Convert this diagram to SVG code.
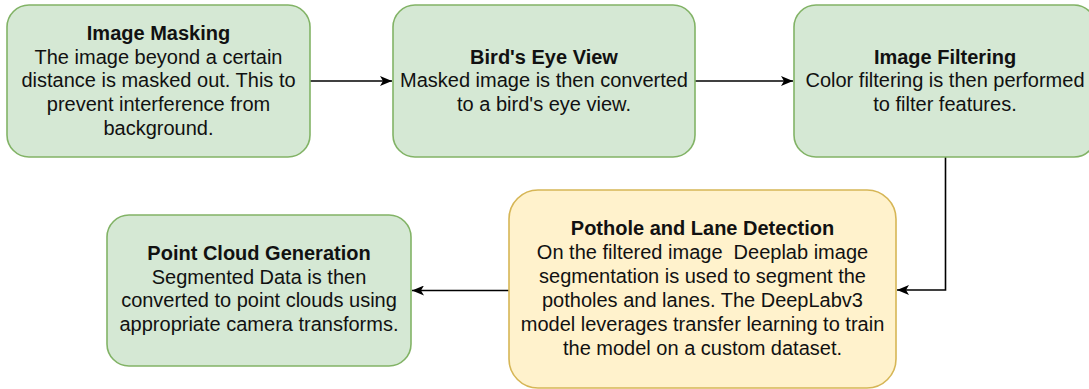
<svg xmlns="http://www.w3.org/2000/svg" width="1089" height="389" viewBox="0 0 1089 389">
  <style>
    .green { fill: #d5e8d4; stroke: #82b366; stroke-width: 1.6; }
    .yellow { fill: #fff2cc; stroke: #d6b656; stroke-width: 1.6; }
    text { font-family: "Liberation Sans", Arial, Helvetica, sans-serif; font-size: 20px; fill: #111; text-anchor: middle; }
    .title { font-weight: bold; }
    .conn { fill: none; stroke: #000; stroke-width: 1.6; }
  </style>
  <defs>
    <marker id="arrow" viewBox="0 0 12 10" refX="12" refY="5" markerWidth="12" markerHeight="10" markerUnits="userSpaceOnUse" orient="auto">
      <path d="M0,0 L12,5 L0,10 L3,5 z" fill="#000"/>
    </marker>
  </defs>
  <rect width="1089" height="389" fill="#ffffff"/>

  <g id="connectors">
    <path class="conn" d="M310,81 L392,81" marker-end="url(#arrow)"/>
    <path class="conn" d="M695,81 L793,81" marker-end="url(#arrow)"/>
    <path class="conn" d="M945.5,157 L945.5,290 L897,290" marker-end="url(#arrow)"/>
    <path class="conn" d="M509,290.5 L412,290.5" marker-end="url(#arrow)"/>
  </g>

  <g id="node-image-masking">
    <rect class="green" x="7" y="5" width="303" height="152" rx="22" ry="22"/>
    <text x="158.5" y="40" class="title">Image Masking</text>
    <text x="158.5" y="63.7">The image beyond a certain</text>
    <text x="158.5" y="87.4">distance is masked out. This to</text>
    <text x="158.5" y="111.1">prevent interference from</text>
    <text x="158.5" y="134.8">background.</text>
  </g>

  <g id="node-birds-eye-view">
    <rect class="green" x="393" y="5" width="302" height="152" rx="22" ry="22"/>
    <text x="544" y="63.5" class="title">Bird's Eye View</text>
    <text x="544" y="87.2">Masked image is then converted</text>
    <text x="544" y="110.9">to a bird's eye view.</text>
  </g>

  <g id="node-image-filtering">
    <rect class="green" x="794" y="5" width="302" height="152" rx="22" ry="22"/>
    <text x="945" y="63.5" class="title">Image Filtering</text>
    <text x="945" y="87.2">Color filtering is then performed</text>
    <text x="945" y="110.9">to filter features.</text>
  </g>

  <g id="node-pothole-lane-detection">
    <rect class="yellow" x="509" y="190" width="387" height="198" rx="29" ry="29"/>
    <text x="702.5" y="235" class="title">Pothole and Lane Detection</text>
    <text x="702.5" y="259" xml:space="preserve">On the filtered image  Deeplab image</text>
    <text x="702.5" y="283">segmentation is used to segment the</text>
    <text x="702.5" y="307">potholes and lanes. The DeepLabv3</text>
    <text x="702.5" y="331">model leverages transfer learning to train</text>
    <text x="702.5" y="355">the model on a custom dataset.</text>
  </g>

  <g id="node-point-cloud-generation">
    <rect class="green" x="107" y="215" width="304" height="151" rx="22" ry="22"/>
    <text x="259" y="260" class="title">Point Cloud Generation</text>
    <text x="259" y="283.7">Segmented Data is then</text>
    <text x="259" y="307.4">converted to point clouds using</text>
    <text x="259" y="331.1">appropriate camera transforms.</text>
  </g>
</svg>
